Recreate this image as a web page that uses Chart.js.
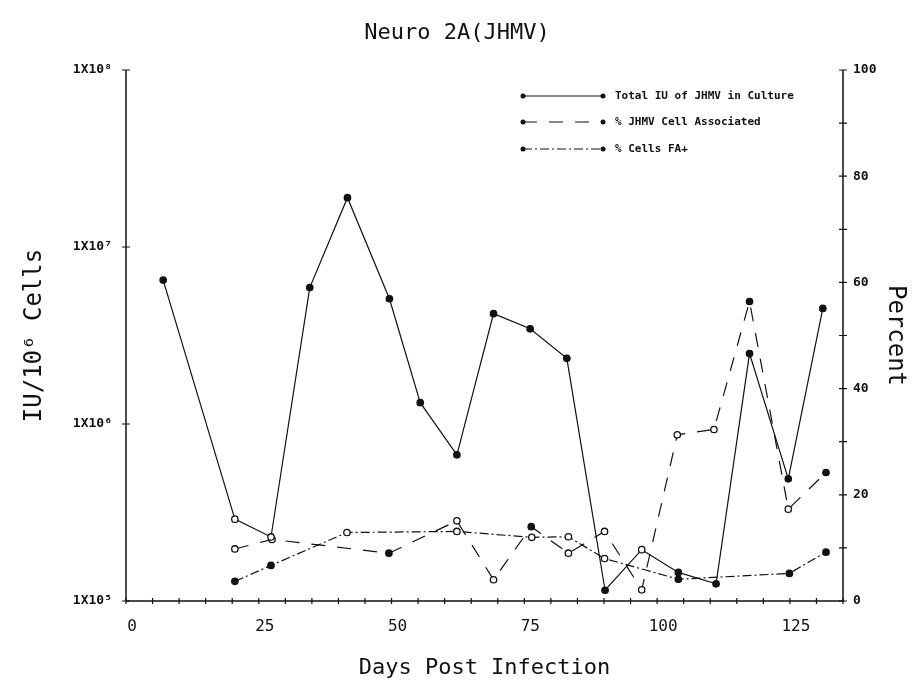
<!DOCTYPE html>
<html>
<head>
<meta charset="utf-8">
<title>Neuro 2A (JHMV)</title>
<script src="https://cdn.jsdelivr.net/npm/chart.js@4"></script>
<style>
  html, body { margin: 0; padding: 0; background: #fff; }
  #wrap { width: 914px; height: 688px; position: relative; }
</style>
</head>
<body>
<div id="wrap"><canvas id="chart"></canvas></div>
<script>
// values (days post infection)
const totalDays = [7, 20.5, 27.3, 34.6, 41.7, 49.6, 55.4, 62.3, 69.2, 76.1, 83, 90.2, 97.1, 104, 111.1, 117.4, 124.7, 131.2];
const totalIU = [6.5e6, 2.9e5, 2.3e5, 5.9e6, 1.9e7, 5.1e6, 1.32e6, 6.7e5, 4.2e6, 3.45e6, 2.35e6, 1.15e5, 1.95e5, 1.45e5, 1.25e5, 2.5e6, 4.9e5, 4.5e6];

const assocDays = [20.5, 27.5, 49.5, 62.3, 69.2, 76.3, 83.3, 90.1, 97.1, 103.8, 110.7, 117.4, 124.7, 131.8];
const assocPct = [9.8, 11.6, 9.0, 15.1, 4.0, 14.0, 9.0, 13.1, 2.1, 31.3, 32.3, 56.4, 17.3, 24.2];

const faDays = [20.5, 27.3, 41.6, 62.3, 76.4, 83.3, 90.1, 104, 124.9, 131.8];
const faPct = [3.7, 6.7, 12.9, 13.1, 12.0, 12.1, 8.0, 4.1, 5.2, 9.2];

const seriesLabels = ['Total IU of JHMV in Culture', '% JHMV Cell Associated', '% Cells FA+'];
const logTicks = [1e5, 1e6, 1e7, 1e8];

// which markers are drawn hollow in the original
const totalOpen = [0, 1, 1, 0, 0, 0, 0, 0, 0, 0, 0, 0, 1, 0, 0, 0, 0, 0];
const assocOpen = [1, 1, 0, 1, 1, 0, 1, 1, 1, 1, 1, 0, 1, 0];
const faOpen = [0, 0, 1, 1, 1, 1, 1, 0, 0, 0];

const sup = { 5: '\u2075', 6: '\u2076', 7: '\u2077', 8: '\u2078' };
const ink = '#111';
const mono = 'DejaVu Sans Mono';

function pts(xs, ys) {
  return xs.map((d, i) => ({ x: d, y: ys[i] }));
}
function fills(flags) {
  return flags.map(f => f ? '#fff' : ink);
}

// axis lines and cross ticks like the plotter drew them
const axisMarks = {
  id: 'axisMarks',
  afterDraw(chart) {
    const ctx = chart.ctx;
    const { x, y, y1 } = chart.scales;
    const top = y.top, bottom = y.bottom;
    ctx.save();
    ctx.strokeStyle = ink;
    ctx.lineWidth = 1.5;
    ctx.beginPath();
    ctx.moveTo(x.left, top);
    ctx.lineTo(x.left, bottom);
    ctx.lineTo(x.right, bottom);
    ctx.lineTo(x.right, top);
    ctx.stroke();

    ctx.lineWidth = 1.2;
    ctx.beginPath();
    // caps on top of both verticals
    ctx.moveTo(x.left - 4, top); ctx.lineTo(x.left + 4, top);
    ctx.moveTo(x.right - 4, top); ctx.lineTo(x.right + 4, top);
    x.ticks.forEach(t => {
      const px = x.getPixelForValue(t.value);
      ctx.moveTo(px, bottom - 3); ctx.lineTo(px, bottom + 3);
    });
    logTicks.forEach(v => {
      const py = y.getPixelForValue(v);
      ctx.moveTo(x.left - 4, py); ctx.lineTo(x.left + 4, py);
    });
    y1.ticks.forEach(t => {
      const py = y1.getPixelForValue(t.value);
      ctx.moveTo(x.right - 4, py); ctx.lineTo(x.right + 4, py);
    });
    ctx.stroke();
    ctx.restore();
  }
};

// legend drawn inside the plot, top right
const insideLegend = {
  id: 'insideLegend',
  afterDatasetsDraw(chart) {
    const ctx = chart.ctx;
    const rows = [96, 122, 149];
    const x0 = 523, x1 = 603;
    ctx.save();
    chart.data.datasets.forEach((ds, i) => {
      const yy = rows[i];
      ctx.strokeStyle = ink;
      ctx.lineWidth = 1.2;
      ctx.setLineDash(ds.borderDash || []);
      ctx.beginPath();
      ctx.moveTo(x0, yy);
      ctx.lineTo(x1, yy);
      ctx.stroke();
      ctx.setLineDash([]);
      ctx.fillStyle = ink;
      [x0, x1].forEach(px => {
        ctx.beginPath();
        ctx.arc(px, yy, 2.5, 0, Math.PI * 2);
        ctx.fill();
      });
      ctx.font = 'bold 11px "' + mono + '"';
      ctx.textBaseline = 'middle';
      ctx.textAlign = 'left';
      ctx.fillText(ds.label, 615, yy);
    });
    ctx.restore();
  }
};

const ctx = document.getElementById('chart').getContext('2d');
new Chart(ctx, {
  type: 'line',
  data: {
    datasets: [
      {
        label: seriesLabels[0],
        data: pts(totalDays, totalIU),
        yAxisID: 'y',
        borderColor: ink,
        borderWidth: 1.2,
        pointRadius: 3.2,
        pointBorderWidth: 1.3,
        pointBorderColor: ink,
        pointBackgroundColor: fills(totalOpen),
        tension: 0
      },
      {
        label: seriesLabels[1],
        data: pts(assocDays, assocPct),
        yAxisID: 'y1',
        borderColor: ink,
        borderWidth: 1.2,
        borderDash: [14, 12],
        pointRadius: 3.2,
        pointBorderWidth: 1.3,
        pointBorderColor: ink,
        pointBackgroundColor: fills(assocOpen),
        tension: 0
      },
      {
        label: seriesLabels[2],
        data: pts(faDays, faPct),
        yAxisID: 'y1',
        borderColor: ink,
        borderWidth: 1.2,
        borderDash: [9, 3, 2, 3],
        pointRadius: 3.2,
        pointBorderWidth: 1.3,
        pointBorderColor: ink,
        pointBackgroundColor: fills(faOpen),
        tension: 0
      }
    ]
  },
  options: {
    responsive: true,
    maintainAspectRatio: false,
    animation: false,
    layout: { padding: 0 },
    plugins: {
      legend: { display: false },
      tooltip: { enabled: false },
      title: {
        display: true,
        text: 'Neuro 2A(JHMV)',
        color: ink,
        font: { family: mono, size: 22, weight: 'normal' },
        padding: { top: 20, bottom: 23.6 }
      }
    },
    scales: {
      x: {
        type: 'linear',
        min: 0,
        max: 135,
        afterFit: s => { s.height = 87; },
        border: { display: false },
        grid: { display: false, drawTicks: false },
        ticks: {
          stepSize: 5,
          autoSkip: false,
          maxRotation: 0,
          padding: 16,
          labelOffset: 6,
          color: ink,
          font: { family: mono, size: 16 },
          callback: v => (v % 25 === 0 ? String(v) : '')
        },
        title: {
          display: true,
          text: 'Days Post Infection',
          color: ink,
          font: { family: mono, size: 22 },
          padding: { top: 0, bottom: 7 }
        }
      },
      y: {
        type: 'logarithmic',
        position: 'left',
        min: 1e5,
        max: 1e8,
        afterFit: s => { s.width = 126; },
        afterBuildTicks: s => { s.ticks = logTicks.map(v => ({ value: v })); },
        border: { display: false },
        grid: { display: false, drawTicks: false },
        ticks: {
          padding: 14,
          color: ink,
          font: { family: mono, size: 13, weight: 'bold' },
          callback: v => '1X10' + sup[Math.round(Math.log10(v))]
        },
        title: {
          display: true,
          text: 'IU/10\u2076 Cells',
          color: ink,
          font: { family: mono, size: 24 },
          padding: { top: 20, bottom: 0 }
        }
      },
      y1: {
        type: 'linear',
        position: 'right',
        min: 0,
        max: 100,
        afterFit: s => { s.width = 71; },
        border: { display: false },
        grid: { display: false, drawTicks: false },
        ticks: {
          stepSize: 10,
          autoSkip: false,
          padding: 10,
          color: ink,
          font: { family: mono, size: 13, weight: 'bold' },
          callback: v => (v % 20 === 0 ? String(v) : '')
        },
        title: {
          display: true,
          text: 'Percent',
          color: ink,
          font: { family: mono, size: 24 },
          padding: { top: 4, bottom: 0 }
        }
      }
    }
  },
  plugins: [axisMarks, insideLegend]
});
</script>
</body>
</html>
